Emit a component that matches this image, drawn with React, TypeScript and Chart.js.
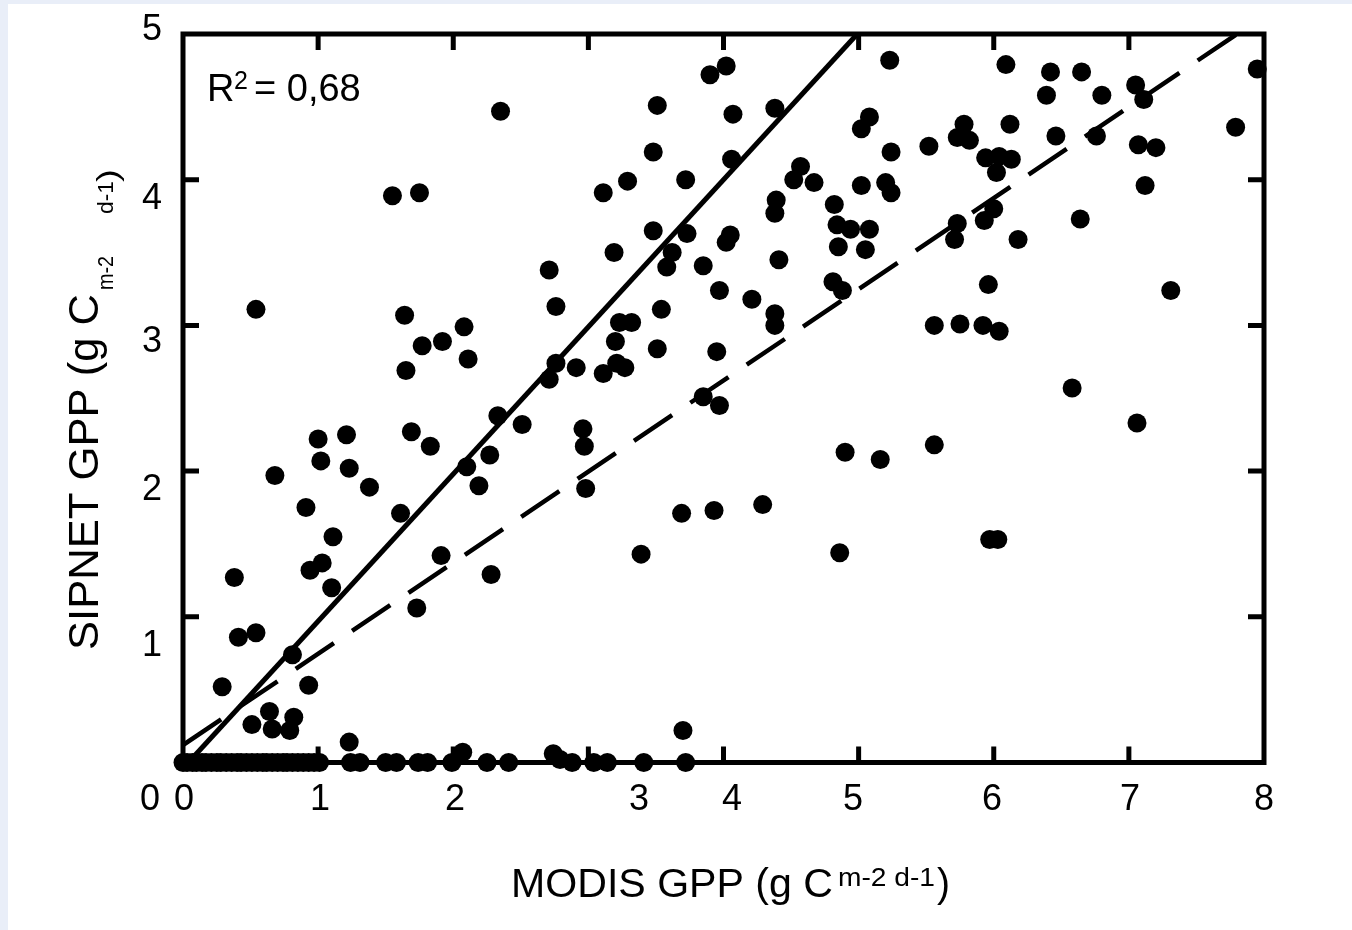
import React, { useEffect, useRef } from "react";
import { Chart, registerables } from "chart.js";

Chart.register(...registerables);

// MODIS GPP (x) and SIPNET GPP (y), g C m-2 d-1
const modisGpp = [
  2.35, 1.55, 1.75, 0.54, 1.64, 2.08, 1.77, 1.92, 2.11, 1.65,
  5.23, 4.02, 3.90, 3.51, 4.07, 4.38, 5.08, 5.02, 3.48, 5.24,
  4.06, 4.57, 4.52, 4.67, 3.72, 3.29, 3.11, 5.02, 5.20, 5.24,
  4.39, 4.38, 4.82, 4.84, 4.94, 5.08, 4.85, 5.05, 3.48, 3.73,
  4.05, 4.02, 3.19, 3.62, 3.58, 3.85, 4.41, 2.71, 4.81, 4.88,
  3.97, 4.21, 2.76, 3.54, 4.38, 4.38, 3.23, 3.32, 3.20, 3.51,
  3.95, 2.76, 2.91, 3.21, 3.27, 3.11, 2.71,
  6.09, 6.42, 6.65, 7.95, 7.05, 7.11, 6.39, 6.80, 7.79, 6.12,
  5.78, 5.73, 5.82, 5.52, 6.46, 6.76, 7.07, 7.20, 5.94, 6.04,
  6.13, 6.02, 7.12, 6.00, 5.93, 5.73, 5.71, 6.64, 6.18, 5.96,
  7.31, 5.56, 5.75, 5.92, 6.04, 6.58,
  2.33, 2.51, 1.00, 1.21, 1.69, 1.83, 2.27, 2.10, 2.19, 1.02,
  1.23, 0.68, 1.38, 0.91, 1.61, 1.11, 1.03, 0.94, 0.38, 1.10,
  1.91, 2.28, 1.73, 0.41, 0.54, 0.81, 0.29, 0.93, 0.64, 0.51,
  0.82, 0.66, 0.79, 1.23, 2.07,
  3.85, 3.97, 2.96, 2.97, 2.98, 3.69, 3.93, 4.29, 4.90, 5.16,
  3.39, 4.86, 3.70, 5.56, 7.06, 5.97, 6.03, 2.74,
  0.00, 0.03, 0.07, 0.10, 0.14, 0.17, 0.21, 0.25, 0.28, 0.32,
  0.36, 0.40, 0.43, 0.47, 0.51, 0.55, 0.59, 0.62, 0.66, 0.70,
  0.74, 0.77, 0.81, 0.85, 0.89, 0.93, 0.97, 1.01,
  1.24, 1.31, 1.50, 1.58, 1.74, 1.81, 1.99, 2.25, 2.41, 2.79,
  2.88, 3.04, 3.14, 3.41, 3.72,
];

const sipnetGpp = [
  4.47, 3.89, 3.91, 3.11, 3.07, 2.99, 2.86, 2.89, 2.77, 2.69,
  4.82, 4.78, 4.72, 4.51, 4.45, 4.49, 4.43, 4.35, 4.19, 4.19,
  4.14, 4.09, 4.00, 3.98, 4.00, 3.99, 3.91, 3.96, 3.98, 3.91,
  3.86, 3.77, 3.83, 3.69, 3.66, 3.66, 3.54, 3.52, 3.65, 3.63,
  3.62, 3.57, 3.50, 3.50, 3.40, 3.41, 3.45, 3.38, 3.30, 3.24,
  3.24, 3.18, 3.13, 3.11, 3.08, 3.00, 3.02, 3.02, 2.89, 2.84,
  2.82, 2.74, 2.71, 2.74, 2.71, 2.67, 2.63,
  4.79, 4.74, 4.74, 4.76, 4.65, 4.55, 4.58, 4.58, 4.36, 4.38,
  4.38, 4.29, 4.27, 4.23, 4.30, 4.30, 4.24, 4.22, 4.15, 4.16,
  4.14, 4.05, 3.96, 3.80, 3.72, 3.70, 3.59, 3.73, 3.59, 3.28,
  3.24, 3.00, 3.01, 3.00, 2.96, 2.57,
  2.38, 2.32, 2.22, 2.25, 2.27, 2.17, 2.11, 2.03, 1.90, 2.07,
  2.02, 1.97, 1.89, 1.75, 1.71, 1.55, 1.37, 1.32, 1.27, 1.20,
  1.42, 1.29, 1.06, 0.86, 0.89, 0.74, 0.52, 0.53, 0.35, 0.26,
  0.31, 0.23, 0.22, 0.14, 0.07,
  2.51, 2.45, 2.29, 2.17, 1.88, 1.71, 1.73, 1.77, 2.13, 2.08,
  1.43, 1.44, 0.22, 2.18, 2.33, 1.53, 1.53, 0.06,
  0, 0, 0, 0, 0, 0, 0, 0, 0, 0,
  0, 0, 0, 0, 0, 0, 0, 0, 0, 0,
  0, 0, 0, 0, 0, 0, 0, 0,
  0, 0, 0, 0, 0, 0, 0, 0, 0, 0.02,
  0, 0, 0, 0, 0,
];

// 1:1 line (solid) and regression line (dashed)
const oneToOneX = [0.04, 4.99];
const oneToOneY = [0, 5];
const regressionX = [0, 7.8];
const regressionY = [0.12, 5];

const xTickValues = [1, 2, 3, 4, 5, 6, 7];
const yTickValues = [1, 2, 3, 4];
const xTickLabels = ["0", "1", "2", "3", "4", "5", "6", "7", "8"];
const yTickLabels = ["5", "4", "3", "2", "1", "0"];
const r2Label = "0,68";

// ---- layout (pixels) ----
const W = 1352;
const H = 930;
const AREA = { left: 183, top: 34, right: 1264, bottom: 762.5 };
const FONT = '"Liberation Sans", Arial, sans-serif';
const xLabelPos = [184, 320, 455, 639, 732, 853, 992, 1130, 1264];
const xLabelY = 800;
const yLabelPos = [30, 199, 342, 490, 646, 800];
const yLabelX = [152, 152, 152, 152, 152, 150];

function fitText(ctx, text, x, baseline, size, width) {
  ctx.save();
  ctx.font = `${size}px ${FONT}`;
  ctx.textBaseline = "alphabetic";
  ctx.textAlign = "left";
  const m = ctx.measureText(text).width;
  const sx = width ? width / m : 1;
  ctx.translate(x, baseline);
  ctx.scale(sx, 1);
  ctx.fillText(text, 0, 0);
  ctx.restore();
}

function centerText(ctx, text, cx, cy, size) {
  ctx.save();
  ctx.font = `${size}px ${FONT}`;
  ctx.textBaseline = "middle";
  ctx.textAlign = "center";
  ctx.fillText(text, cx, cy);
  ctx.restore();
}

const framePlugin = {
  id: "frame",
  beforeDraw(chart) {
    const ctx = chart.ctx;
    ctx.save();
    ctx.fillStyle = "#e9eef8";
    ctx.fillRect(0, 0, W, H);
    ctx.fillStyle = "#ffffff";
    ctx.fillRect(8, 4, W - 8, H - 4);
    ctx.restore();
  },
  afterDatasetsDraw(chart) {
    const ctx = chart.ctx;
    const { left, top, right, bottom } = chart.chartArea;
    const xs = chart.scales.x;
    const ys = chart.scales.y;
    ctx.save();
    ctx.strokeStyle = "#000";
    ctx.lineWidth = 5;
    ctx.lineCap = "square";
    ctx.strokeRect(left, top, right - left, bottom - top);
    ctx.lineCap = "butt";
    const L = 16;
    xTickValues.forEach((v) => {
      const px = xs.getPixelForValue(v);
      ctx.beginPath();
      ctx.moveTo(px, bottom);
      ctx.lineTo(px, bottom - L);
      ctx.moveTo(px, top);
      ctx.lineTo(px, top + L);
      ctx.stroke();
    });
    yTickValues.forEach((v) => {
      const py = ys.getPixelForValue(v);
      ctx.beginPath();
      ctx.moveTo(left, py);
      ctx.lineTo(left + L, py);
      ctx.moveTo(right, py);
      ctx.lineTo(right - L, py);
      ctx.stroke();
    });
    ctx.restore();
  },
  afterDraw(chart) {
    const ctx = chart.ctx;
    ctx.save();
    ctx.fillStyle = "#000";
    // tick labels
    xTickLabels.forEach((t, i) => centerText(ctx, t, xLabelPos[i], xLabelY, 36));
    yTickLabels.forEach((t, i) => centerText(ctx, t, yLabelX[i], yLabelPos[i], 36));
    // R2 annotation
    fitText(ctx, "R", 207, 101, 38);
    fitText(ctx, "2", 234, 89, 25);
    fitText(ctx, "= " + r2Label, 254, 101, 38);
    // x title
    fitText(ctx, "MODIS GPP (g C", 511, 897, 40, 322);
    fitText(ctx, "m-2 d-1", 838, 886, 25, 97);
    fitText(ctx, ")", 937, 897, 40, 13);
    // y title (rotated)
    ctx.save();
    ctx.translate(98, 650);
    ctx.rotate(-Math.PI / 2);
    fitText(ctx, "SIPNET GPP (g C", 0, 0, 42, 356);
    fitText(ctx, "m-2", 360, 15, 22, 34);
    fitText(ctx, "d-1", 436, 15, 22, 33);
    fitText(ctx, ")", 468, 20, 30, 13);
    ctx.restore();
    ctx.restore();
  },
};

export default function App() {
  const ref = useRef(null);
  useEffect(() => {
    const points = modisGpp.map((x, i) => ({ x, y: sipnetGpp[i] }));
    const oneToOne = oneToOneX.map((x, i) => ({ x, y: oneToOneY[i] }));
    const regression = regressionX.map((x, i) => ({ x, y: regressionY[i] }));
    const chart = new Chart(ref.current, {
      type: "scatter",
      data: {
        datasets: [
          {
            data: points,
            backgroundColor: "#000",
            borderWidth: 0,
            pointRadius: 9.5,
            pointHoverRadius: 9.5,
            clip: false,
          },
          {
            type: "line",
            data: oneToOne,
            showLine: true,
            borderColor: "#000",
            borderWidth: 5,
            pointRadius: 0,
            fill: false,
          },
          {
            type: "line",
            data: regression,
            showLine: true,
            borderColor: "#000",
            borderWidth: 4.5,
            borderDash: [46, 22],
            pointRadius: 0,
            fill: false,
          },
        ],
      },
      options: {
        responsive: false,
        animation: false,
        devicePixelRatio: 1,
        events: [],
        layout: {
          padding: {
            left: AREA.left,
            top: AREA.top,
            right: W - AREA.right,
            bottom: H - AREA.bottom,
          },
        },
        plugins: { legend: { display: false }, tooltip: { enabled: false } },
        scales: {
          x: { type: "linear", min: 0, max: 8, display: false },
          y: { type: "linear", min: 0, max: 5, display: false },
        },
      },
      plugins: [framePlugin],
    });
    return () => chart.destroy();
  }, []);
  return (
    <div style={{ position: "absolute", left: 0, top: 0, width: W, height: H }}>
      <canvas ref={ref} width={W} height={H} style={{ display: "block", width: W, height: H }} />
    </div>
  );
}
